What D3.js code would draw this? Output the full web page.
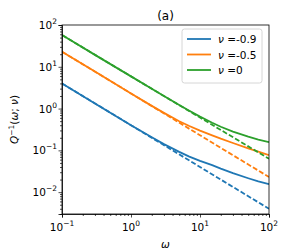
<!DOCTYPE html>
<html>
<head>
<meta charset="utf-8">
<script src="https://cdn.jsdelivr.net/npm/d3@7"></script>
<style>
body { margin: 0; background: #fff; }
text { font-family: "DejaVu Sans", sans-serif; }
</style>
</head>
<body>
<div id="chart"></div>
<script>

// sample points along omega
var omega = [0.1, 0.3, 1, 2, 3, 5, 7, 10, 15, 20, 30, 50, 70, 100];
var omegaDash = [0.1, 1, 10, 100];

var nuLabels = ["-0.9", "-0.5", "0"];
var colors = ["#1f77b4", "#ff7f0e", "#2ca02c"];

// solid curves
var qBlue   = [4.0, 1.33, 0.40, 0.205, 0.141, 0.092, 0.0708, 0.056, 0.0443, 0.0366, 0.0285, 0.0215, 0.0181, 0.0155];
var qOrange = [23, 7.7, 2.3, 1.16, 0.79, 0.498, 0.383, 0.298, 0.228, 0.19, 0.15, 0.112, 0.093, 0.077];
var qGreen  = [57.5, 19.3, 5.9, 2.97, 2.0, 1.22, 0.886, 0.642, 0.458, 0.368, 0.282, 0.212, 0.181, 0.158];

// dashed asymptotes
var dBlue   = [4.0, 0.4, 0.04, 0.004];
var dOrange = [23, 2.3, 0.23, 0.023];
var dGreen  = [57.5, 5.9, 0.61, 0.063];

var xTicks = [0.1, 1, 10, 100];
var xTickExp = ["\u22121", "0", "1", "2"];
var yTicks = [0.01, 0.1, 1, 10, 100];
var yTickExp = ["\u22122", "\u22121", "0", "1", "2"];

var margin = {top: 25, right: 15, bottom: 38, left: 62};
var width = 284 - margin.left - margin.right;
var height = 252 - margin.top - margin.bottom;

var svg = d3.select("#chart").append("svg")
    .attr("width", 284)
    .attr("height", 252);

var g = svg.append("g")
    .attr("transform", "translate(" + margin.left + "," + margin.top + ")");

var x = d3.scaleLog().domain([0.1, 100]).range([0, width]);
var y = d3.scaleLog().domain([0.003, 100]).range([height, 0]);

g.append("defs").append("clipPath").attr("id", "clip")
    .append("rect").attr("width", width).attr("height", height);

var line = d3.line()
    .x(function(d) { return x(d[0]); })
    .y(function(d) { return y(d[1]); });

var solid = [qBlue, qOrange, qGreen];
var dashed = [dBlue, dOrange, dGreen];

var plot = g.append("g").attr("clip-path", "url(#clip)");

solid.forEach(function(s, i) {
    plot.append("path")
        .attr("d", line(d3.zip(omega, s)))
        .attr("fill", "none")
        .attr("stroke", colors[i])
        .attr("stroke-width", 1.8);
    plot.append("path")
        .attr("d", line(d3.zip(omegaDash, dashed[i])))
        .attr("fill", "none")
        .attr("stroke", colors[i])
        .attr("stroke-width", 1.8)
        .attr("stroke-dasharray", "5,2.2");
});

// minor ticks
function minors(lo, hi) {
    var out = [];
    for (var e = Math.floor(Math.log10(lo)); e < Math.ceil(Math.log10(hi)); e++) {
        for (var k = 2; k < 10; k++) {
            var v = k * Math.pow(10, e);
            if (v >= lo && v <= hi) out.push(v);
        }
    }
    return out;
}

g.append("g")
    .attr("transform", "translate(0," + height + ")")
    .call(d3.axisBottom(x).tickValues(xTicks).tickSize(3.5).tickFormat(""));
g.append("g")
    .attr("transform", "translate(0," + height + ")")
    .call(d3.axisBottom(x).tickValues(minors(0.1, 100)).tickSize(2).tickFormat(""))
    .select(".domain").remove();

g.append("g")
    .call(d3.axisLeft(y).tickValues(yTicks).tickSize(3.5).tickFormat(""));
g.append("g")
    .call(d3.axisLeft(y).tickValues(minors(0.003, 100)).tickSize(2).tickFormat(""))
    .select(".domain").remove();

g.selectAll(".domain").attr("stroke", "#000").attr("stroke-width", 0.8);
g.selectAll(".tick line").attr("stroke", "#000").attr("stroke-width", 0.7);

// frame
g.append("rect")
    .attr("width", width).attr("height", height)
    .attr("fill", "none").attr("stroke", "#000").attr("stroke-width", 0.8);

// tick labels with superscripts
xTicks.forEach(function(t, i) {
    var tx = g.append("text")
        .attr("x", x(t)).attr("y", height + 17)
        .attr("text-anchor", "middle")
        .attr("font-size", 10.5);
    tx.append("tspan").text("10");
    tx.append("tspan").attr("dy", -5).attr("font-size", 7.5).text(xTickExp[i]);
});

yTicks.forEach(function(t, i) {
    var ty = g.append("text")
        .attr("x", -5).attr("y", y(t) + 4)
        .attr("text-anchor", "end")
        .attr("font-size", 10.5);
    ty.append("tspan").text("10");
    ty.append("tspan").attr("dy", -5).attr("font-size", 7.5).text(yTickExp[i]);
});

// axis labels
g.append("text")
    .attr("x", width / 2).attr("y", height + 34)
    .attr("text-anchor", "middle")
    .attr("font-size", 10.5)
    .attr("font-style", "italic")
    .text("\u03c9");

var yl = svg.append("text")
    .attr("transform", "translate(18," + (margin.top + height / 2) + ") rotate(-90)")
    .attr("text-anchor", "middle")
    .attr("font-size", 10.5);
yl.append("tspan").attr("font-style", "italic").text("Q");
yl.append("tspan").attr("dy", -4).attr("font-size", 7.5).text("\u22121");
yl.append("tspan").attr("dy", 4).text("(");
yl.append("tspan").attr("font-style", "italic").text("\u03c9");
yl.append("tspan").text("; ");
yl.append("tspan").attr("font-style", "italic").text("\u03bd");
yl.append("tspan").text(")");

// title
svg.append("text")
    .attr("x", margin.left + width / 2).attr("y", 19.5)
    .attr("text-anchor", "middle")
    .attr("font-size", 12)
    .text("(a)");

// legend
var legend = g.append("g").attr("transform", "translate(" + (width - 87) + ",4)");
legend.append("rect")
    .attr("width", 80).attr("height", 54)
    .attr("rx", 2.5)
    .attr("fill", "#fff").attr("fill-opacity", 0.8)
    .attr("stroke", "#ccc").attr("stroke-width", 0.8);

nuLabels.forEach(function(n, i) {
    var ly = 10 + i * 15.5;
    legend.append("line")
        .attr("x1", 5).attr("x2", 29)
        .attr("y1", ly).attr("y2", ly)
        .attr("stroke", colors[i]).attr("stroke-width", 1.8);
    var t = legend.append("text")
        .attr("x", 36).attr("y", ly + 4)
        .attr("font-size", 10.5);
    t.append("tspan").attr("font-style", "italic").text("\u03bd");
    t.append("tspan").text(" =" + n);
});

</script>
</body>
</html>
